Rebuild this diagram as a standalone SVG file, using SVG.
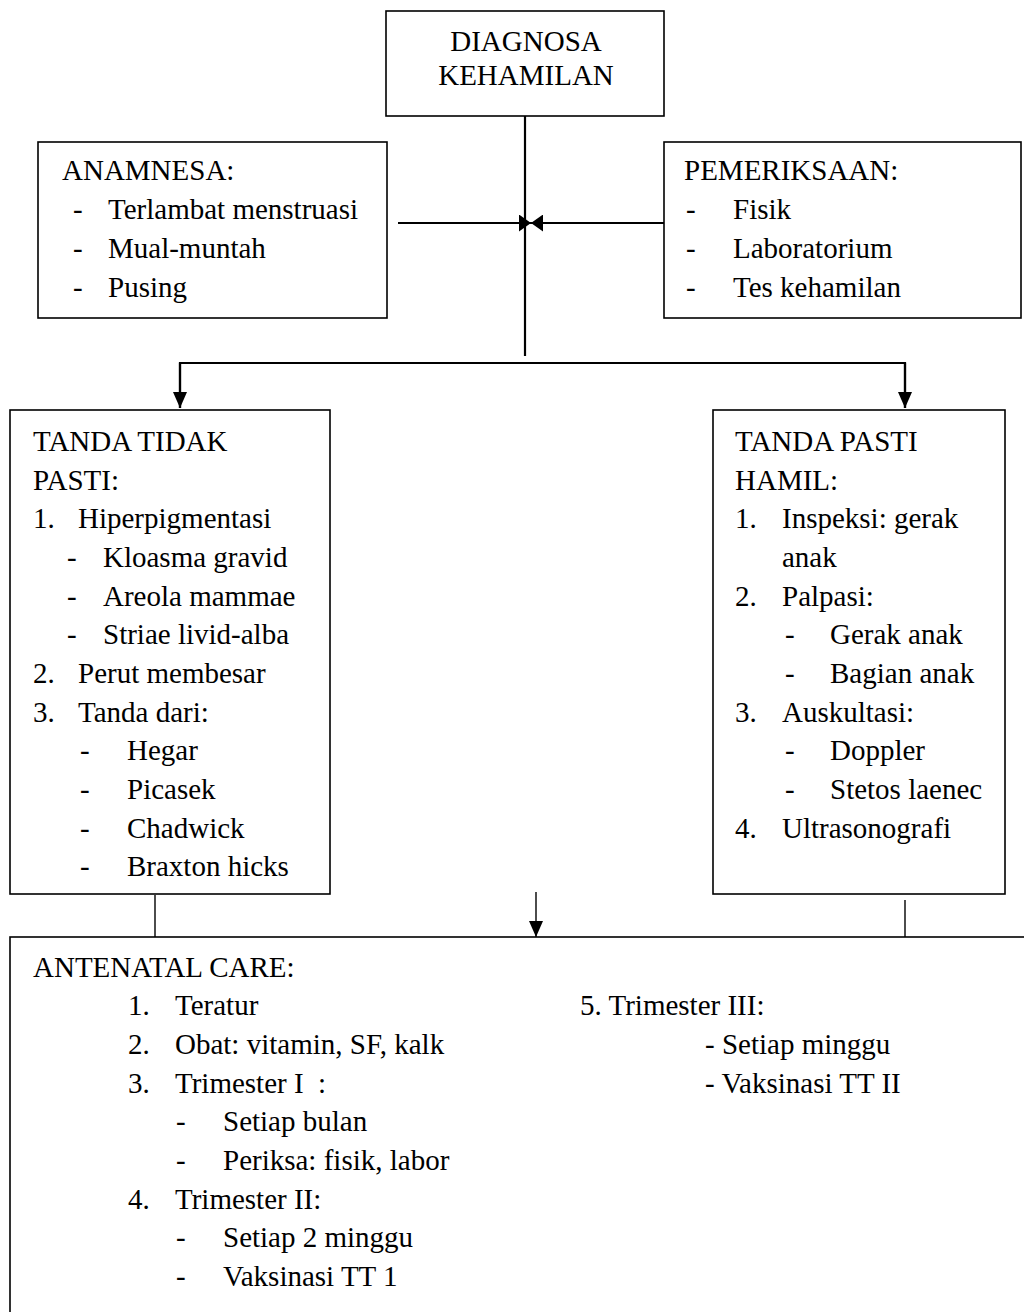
<svg xmlns="http://www.w3.org/2000/svg" width="1024" height="1312" viewBox="0 0 1024 1312">
<defs>
<style>
text{font-family:"Liberation Serif","Times New Roman",serif;font-size:29px;fill:#000;white-space:pre}
.box{fill:#fff;stroke:#000;stroke-width:1.6}
.c{stroke:#000;stroke-width:2.2;fill:none}
.t{stroke:#000;stroke-width:1.4;fill:none}
.mid{text-anchor:middle}
</style>
<marker id="ah" markerUnits="userSpaceOnUse" markerWidth="16" markerHeight="14" refX="16" refY="7" orient="auto"><path d="M0,0 L16,7 L0,14 z" fill="#000"/></marker>
<marker id="bw" markerUnits="userSpaceOnUse" markerWidth="12" markerHeight="17" refX="12" refY="8.5" orient="auto"><path d="M0,0 L12,8.5 L0,17 z" fill="#000"/></marker>
</defs>
<rect width="1024" height="1312" fill="#fff"/>

<g id="connectors">
<line class="c" x1="525" y1="116" x2="525" y2="356"/>
<line class="c" x1="398" y1="223" x2="531" y2="223" marker-end="url(#bw)"/>
<line class="c" x1="664" y1="223" x2="531" y2="223" marker-end="url(#bw)"/>
<polyline class="c" points="180,408 180,363 905,363 905,408" />
<line class="c" x1="180" y1="363" x2="180" y2="408" marker-end="url(#ah)"/>
<line class="c" x1="905" y1="363" x2="905" y2="408" marker-end="url(#ah)"/>
<line class="t" x1="155" y1="895" x2="155" y2="937"/>
<line class="t" x1="536" y1="892" x2="536" y2="937" marker-end="url(#ah)"/>
<line class="t" x1="905" y1="900" x2="905" y2="937"/>
</g>

<g id="diagnosa">
<rect class="box" x="386" y="11" width="278" height="105"/>
<text class="mid" x="526" y="51">DIAGNOSA</text>
<text class="mid" x="526" y="85">KEHAMILAN</text>
</g>

<g id="anamnesa">
<rect class="box" x="38" y="142" width="349" height="176"/>
<text x="62" y="180">ANAMNESA:</text>
<text x="73" y="219">-</text><text x="108" y="219">Terlambat menstruasi</text>
<text x="73" y="258">-</text><text x="108" y="258">Mual-muntah</text>
<text x="73" y="297">-</text><text x="108" y="297">Pusing</text>
</g>

<g id="pemeriksaan">
<rect class="box" x="664" y="142" width="357" height="176"/>
<text x="684" y="180">PEMERIKSAAN:</text>
<text x="686" y="219">-</text><text x="733" y="219">Fisik</text>
<text x="686" y="258">-</text><text x="733" y="258">Laboratorium</text>
<text x="686" y="297">-</text><text x="733" y="297">Tes kehamilan</text>
</g>

<g id="tanda-tidak-pasti">
<rect class="box" x="10" y="410" width="320" height="484"/>
<text x="33" y="451">TANDA TIDAK</text>
<text x="33" y="490">PASTI:</text>
<text x="33" y="528">1.</text><text x="78" y="528">Hiperpigmentasi</text>
<text x="67" y="567">-</text><text x="103" y="567">Kloasma gravid</text>
<text x="67" y="606">-</text><text x="103" y="606">Areola mammae</text>
<text x="67" y="644">-</text><text x="103" y="644">Striae livid-alba</text>
<text x="33" y="683">2.</text><text x="78" y="683">Perut membesar</text>
<text x="33" y="722">3.</text><text x="78" y="722">Tanda dari:</text>
<text x="80" y="760">-</text><text x="127" y="760">Hegar</text>
<text x="80" y="799">-</text><text x="127" y="799">Picasek</text>
<text x="80" y="838">-</text><text x="127" y="838">Chadwick</text>
<text x="80" y="876">-</text><text x="127" y="876">Braxton hicks</text>
</g>

<g id="tanda-pasti-hamil">
<rect class="box" x="713" y="410" width="292" height="484"/>
<text x="735" y="451">TANDA PASTI</text>
<text x="735" y="490">HAMIL:</text>
<text x="735" y="528">1.</text><text x="782" y="528">Inspeksi: gerak</text>
<text x="782" y="567">anak</text>
<text x="735" y="606">2.</text><text x="782" y="606">Palpasi:</text>
<text x="785" y="644">-</text><text x="830" y="644">Gerak anak</text>
<text x="785" y="683">-</text><text x="830" y="683">Bagian anak</text>
<text x="735" y="722">3.</text><text x="782" y="722">Auskultasi:</text>
<text x="785" y="760">-</text><text x="830" y="760">Doppler</text>
<text x="785" y="799">-</text><text x="830" y="799">Stetos laenec</text>
<text x="735" y="838">4.</text><text x="782" y="838">Ultrasonografi</text>
</g>

<g id="antenatal-care">
<rect class="box" x="10" y="937" width="1030" height="400"/>
<text x="33" y="977">ANTENATAL CARE:</text>
<text x="128" y="1015">1.</text><text x="175" y="1015">Teratur</text>
<text x="128" y="1054">2.</text><text x="175" y="1054">Obat: vitamin, SF, kalk</text>
<text x="128" y="1093">3.</text><text x="175" y="1093">Trimester I  :</text>
<text x="176" y="1131">-</text><text x="223" y="1131">Setiap bulan</text>
<text x="176" y="1170">-</text><text x="223" y="1170">Periksa: fisik, labor</text>
<text x="128" y="1209">4.</text><text x="175" y="1209">Trimester II:</text>
<text x="176" y="1247">-</text><text x="223" y="1247">Setiap 2 minggu</text>
<text x="176" y="1286">-</text><text x="223" y="1286">Vaksinasi TT 1</text>
<text x="580" y="1015">5. Trimester III:</text>
<text x="705" y="1054">- Setiap minggu</text>
<text x="705" y="1093">- Vaksinasi TT II</text>
</g>
</svg>
